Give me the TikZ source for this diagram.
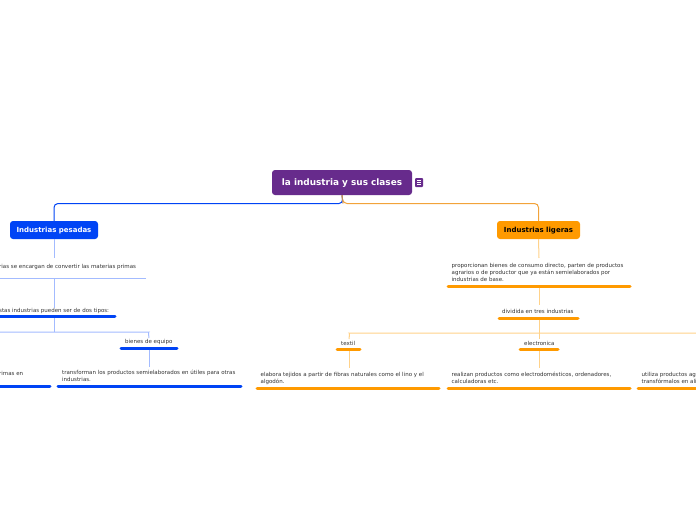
\documentclass[tikz,border=0pt]{standalone}
\usepackage{fontspec}
\setmainfont{DejaVu Sans}
\definecolor{rootc}{HTML}{672B8C}
\definecolor{bluec}{HTML}{0044F5}
\definecolor{lblue}{HTML}{A3BBFF}
\definecolor{orc}{HTML}{FF9A00}
\definecolor{lor}{HTML}{FFD28A}
\definecolor{linec}{HTML}{F2A33A}
\definecolor{txt}{HTML}{333333}
\tikzset{
  rootbox/.style={fill=rootc, rounded corners=3pt, text=white, font=\bfseries\fontsize{8.9}{10}\selectfont, minimum width=140pt, minimum height=25pt, inner sep=0pt, text height=6.8pt, text depth=0pt},
  mainbox/.style={rounded corners=3pt, font=\bfseries\fontsize{7}{8}\selectfont, minimum height=18pt, inner sep=0pt, text height=5.6pt, text depth=0pt},
  small/.style={text=txt, font=\fontsize{5.5}{6.6}\selectfont, inner sep=0pt, anchor=base west, align=left},
  thinblue/.style={draw=lblue, line width=1pt},
  thickblue/.style={draw=bluec, line width=3pt, line cap=round},
  thinor/.style={draw=lor, line width=1pt},
  thickor/.style={draw=orc, line width=3pt, line cap=round},
}
\begin{document}
\begin{tikzpicture}[x=1pt,y=-1pt]
\useasboundingbox (0,0) rectangle (696,520);
\clip (0,0) rectangle (696,520);
\fill[white] (0,0) rectangle (696,520);

% root
\node[rootbox] (root) at (342,182.5) {la industria y sus clases};
\node[fill=rootc, rounded corners=1pt, minimum width=8pt, minimum height=9pt, inner sep=0pt] (note) at (419,182.5) {};
\foreach \dy in {-2,0,2} \draw[white, line width=0.6pt] ([xshift=-2pt,yshift=\dy pt]note.center) -- ([xshift=2pt,yshift=\dy pt]note.center);

% main branches
\node[mainbox, fill=bluec, text=white, minimum width=88pt] (pes) at (54,230) {Industrias pesadas};
\node[mainbox, fill=orc, text=black, minimum width=83pt] (lig) at (538.5,230) {Industrias ligeras};

\draw[bluec, line width=1pt, rounded corners=4pt] (root.south) -- (343,203.5) -| (pes.north);
\draw[linec, line width=1pt, rounded corners=4pt] (root.south) -- (343,203.5) -| (lig.north);
\draw[draw={rgb,255:red,190;green,140;blue,90}, line width=1pt] (root.south) -- (343,203.5);

% ---------- left side ----------
\node[small] (l1) at (-1,268) {rias se encargan de convertir las materias primas};
\coordinate (l1a) at (-5,278); \coordinate (l1b) at (146,278);
\draw[thinblue] (l1a) -- (l1b);
\coordinate (l1top) at (54,258);
\draw[thinblue] (pes.south) -- (l1top);

\node[small] (l2) at (-1,312) {stas industrias pueden ser de dos tipos:};
\coordinate (l2a) at (-5,316.5); \coordinate (l2b) at (115,316.5);
\draw[thickblue] (l2a) -- (l2b);
\coordinate (l1m) at (54,278);
\coordinate (l2top) at (54,308);
\draw[thinblue] (l1m) -- (l2top);

\node[small] (be) at (125,343) {bienes de equipo};
\coordinate (bea) at (121,348.5); \coordinate (beb) at (177,348.5);
\draw[thickblue] (bea) -- (beb);
\coordinate (l2m) at (54,318);
\coordinate (betop) at (149,338);
\coordinate (offl) at (-5,332);
\draw[thinblue] (l2m) -- (54,332);
\draw[thinblue, rounded corners=4pt] (offl) -- (145,332) to[out=0,in=90] (betop);

\node[small] (tr) at (62,381.5) {transforman los productos semielaborados en útiles para otras\\industrias.};
\coordinate (tra) at (58,386.5); \coordinate (trb) at (241,386.5);
\draw[thickblue] (tra) -- (trb);
\coordinate (bem) at (149,350); \coordinate (trtop) at (149,367);
\draw[thinblue] (bem) -- (trtop);

\node[small] (rp) at (-1,375) {rimas en};
\coordinate (rpa) at (-5,386.5); \coordinate (rpb) at (50,386.5);
\draw[thickblue] (rpa) -- (rpb);

% ---------- right side ----------
\node[small] (r1) at (451.5,281) {proporcionan bienes de consumo directo, parten de productos\\agrarios o de productor que ya están semielaborados por\\industrias de base.};
\coordinate (r1a) at (448,286); \coordinate (r1b) at (630,286);
\draw[thickor] (r1a) -- (r1b);
\coordinate (r1top) at (539,258);
\draw[thinor] (lig.south) -- (r1top);

\node[small] (r2) at (502,313) {dividida en tres industrias};
\coordinate (r2a) at (499,318); \coordinate (r2b) at (578,318);
\draw[thickor] (r2a) -- (r2b);
\coordinate (r1m) at (539,287.5); \coordinate (r2top) at (539,305);
\draw[thinor] (r1m) -- (r2top);

\node[small] (tx) at (341,345) {textil};
\coordinate (txa) at (337,349.5); \coordinate (txb) at (360,349.5);
\draw[thickor] (txa) -- (txb);
\node[small] (el) at (524,345) {electronica};
\coordinate (ela) at (520,349.5); \coordinate (elb) at (558,349.5);
\draw[thickor] (ela) -- (elb);

\coordinate (r2m) at (539,319.5);
\coordinate (txtop) at (349,339);
\coordinate (eltop) at (539,339);
\coordinate (offr) at (700,333);
\draw[thinor] (r2m) -- (eltop);
\draw[thinor, rounded corners=4pt] (offr) -- (353,333) to[out=180,in=90] (txtop);

\node[small] (ta) at (260.5,383.5) {elabora tejidos a partir de fibras naturales como el lino y el\\algodón.};
\coordinate (taa) at (257,388.5); \coordinate (tab) at (439,388.5);
\draw[thickor] (taa) -- (tab);
\coordinate (txm) at (349,351); \coordinate (tatop) at (349,368);
\draw[thinor] (txm) -- (tatop);

\node[small] (ea) at (451.5,383.5) {realizan productos como electrodomésticos, ordenadores,\\calculadoras etc.};
\coordinate (eaa) at (448,388.5); \coordinate (eab) at (630,388.5);
\draw[thickor] (eaa) -- (eab);
\coordinate (elm) at (539,351); \coordinate (eatop) at (539,368);
\draw[thinor] (elm) -- (eatop);

\node[small] (ua) at (641.5,383.5) {utiliza productos ag\\transfórmalos en ali};
\coordinate (uaa) at (638,388.5); \coordinate (uab) at (700,388.5);
\draw[thickor] (uaa) -- (uab);
\end{tikzpicture}
\end{document}
